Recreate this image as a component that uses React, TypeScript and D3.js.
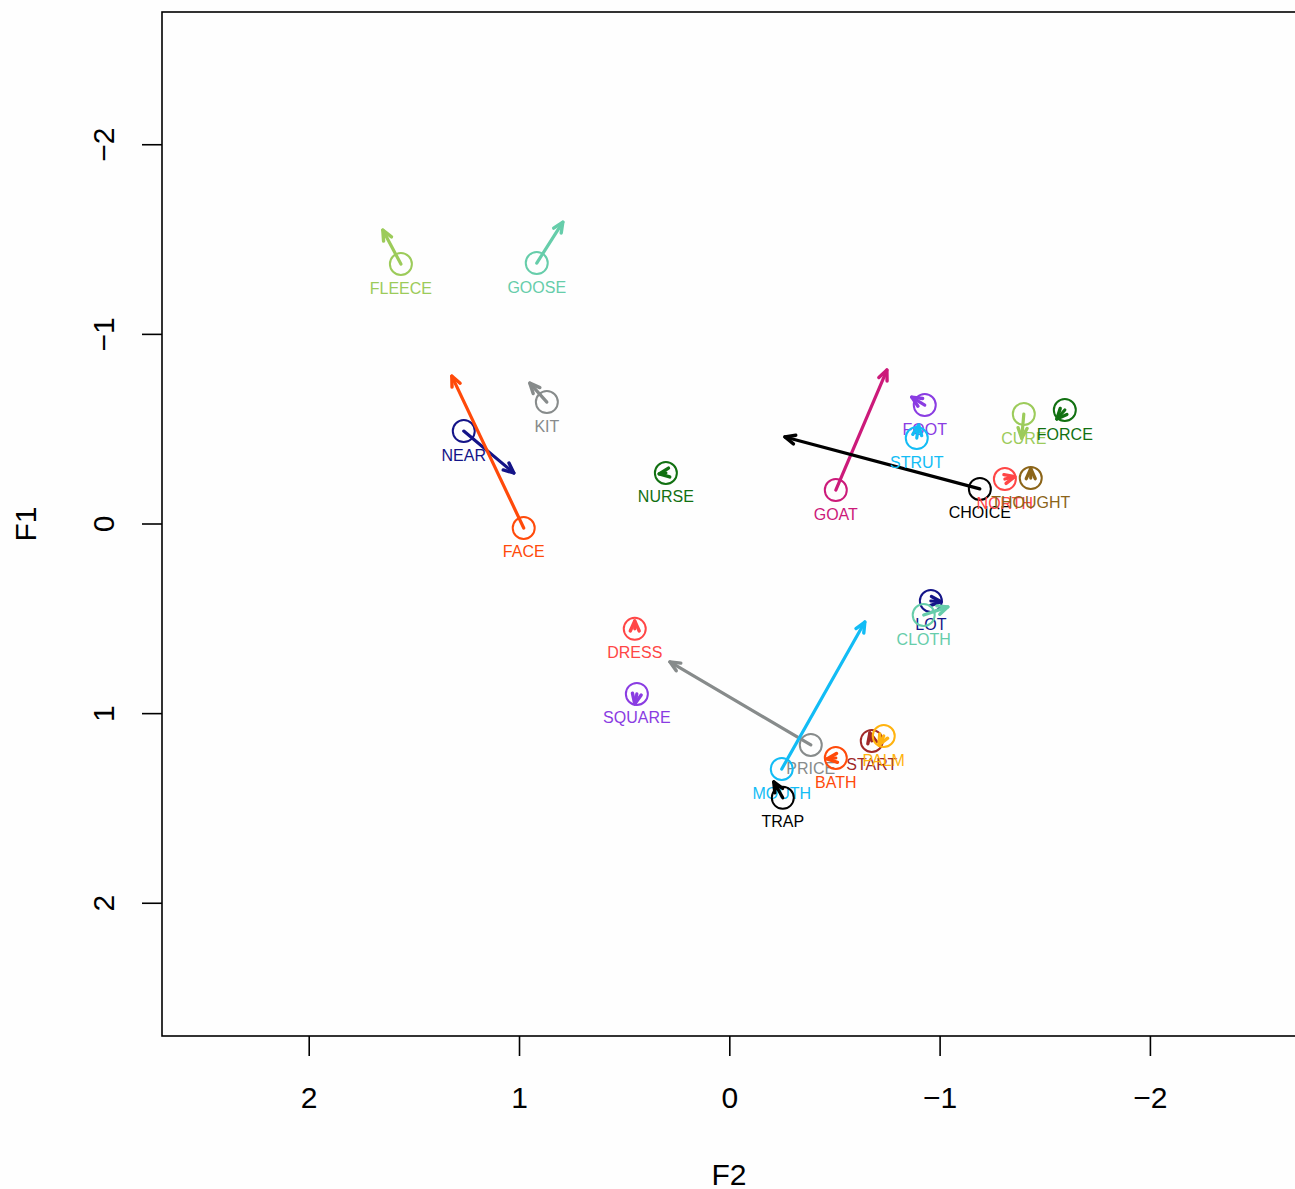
import React from "react";
import * as d3 from "d3";

const vowels = ["FLEECE","GOOSE","KIT","NEAR","FACE","NURSE","GOAT","CHOICE","FOOT","STRUT","CURE","FORCE","NORTH","THOUGHT","LOT","CLOTH","DRESS","SQUARE","PRICE","MOUTH","TRAP","BATH","START","PALM"];
const startF2 = [1.564,0.918,0.870,1.265,0.980,0.304,-0.504,-1.189,-0.927,-0.889,-1.398,-1.593,-1.308,-1.431,-0.956,-0.922,0.452,0.442,-0.385,-0.247,-0.252,-0.504,-0.675,-0.732];
const startF1 = [-1.371,-1.376,-0.643,-0.490,0.021,-0.269,-0.179,-0.185,-0.627,-0.453,-0.580,-0.601,-0.237,-0.242,0.406,0.480,0.553,0.896,1.165,1.292,1.444,1.234,1.144,1.118];
const endF2 = [1.650,0.794,0.951,1.027,1.322,0.336,-0.747,-0.262,-0.865,-0.898,-1.388,-1.555,-1.355,-1.431,-1.005,-1.037,0.452,0.452,0.285,-0.642,-0.209,-0.462,-0.666,-0.709];
const endF1 = [-1.550,-1.592,-0.743,-0.269,-0.780,-0.264,-0.812,-0.459,-0.669,-0.522,-0.453,-0.554,-0.250,-0.292,0.410,0.437,0.511,0.949,0.727,0.517,1.360,1.239,1.102,1.165];
const vowelColors = ["#9CCB5A","#66CDAA","#878B8B","#141488","#FF4A0A","#117011","#CC1A7A","#000000","#8A3CE2","#12BCF5","#9CCB5A","#117011","#FF4646","#8B6418","#141488","#66CDAA","#FF4646","#8A3CE2","#878B8B","#12BCF5","#000000","#FF4A0A","#A02828","#FFB30F"];
const xTicks = [2, 1, 0, -1, -2];
const yTicks = [-2, -1, 0, 1, 2];

const W = 1295, H = 1189;
const left = 162, top = 12, bottom = 1036;

function fmt(v: number) {
  return v < 0 ? "\u2212" + Math.abs(v) : String(v);
}

export default function App() {
  const x = d3.scaleLinear().domain([2.7, -2.7]).range([left, left + 5.4 * 210.3]);
  const y = d3.scaleLinear().domain([-2.7, 2.7]).range([top, bottom]);
  const font = "'Liberation Sans', Arial, Helvetica, sans-serif";

  const arrowHead = (x1: number, y1: number, x2: number, y2: number) => {
    const ang = Math.atan2(y2 - y1, x2 - x1);
    const L = 11, a = Math.PI / 7.5;
    const p1 = [x2 - L * Math.cos(ang - a), y2 - L * Math.sin(ang - a)];
    const p2 = [x2 - L * Math.cos(ang + a), y2 - L * Math.sin(ang + a)];
    return `M${p1[0]},${p1[1]}L${x2},${y2}L${p2[0]},${p2[1]}`;
  };

  return (
    <svg width={W} height={H} style={{ display: "block", position: "absolute", left: 0, top: 0, background: "#fefefe" }}>
      <rect x={0} y={0} width={W} height={H} fill="#fefefe" />
      <rect x={left} y={top} width={W + 10 - left} height={bottom - top} fill="none" stroke="#000" strokeWidth={1.6} />
      {xTicks.map((t) => (
        <g key={"xt" + t}>
          <line x1={x(t)} x2={x(t)} y1={bottom} y2={bottom + 20} stroke="#000" strokeWidth={1.6} />
          <text x={x(t)} y={1097} textAnchor="middle" dominantBaseline="central" fontFamily={font} fontSize={30}>{fmt(t)}</text>
        </g>
      ))}
      {yTicks.map((t) => (
        <g key={"yt" + t}>
          <line x1={left - 20} x2={left} y1={y(t)} y2={y(t)} stroke="#000" strokeWidth={1.6} />
          <text x={0} y={0} transform={`translate(103,${y(t)}) rotate(-90)`} textAnchor="middle" dominantBaseline="central" fontFamily={font} fontSize={30}>{fmt(t)}</text>
        </g>
      ))}
      <text x={729} y={1174} textAnchor="middle" dominantBaseline="central" fontFamily={font} fontSize={30}>F2</text>
      <text x={0} y={0} transform={`translate(25,${y(0)}) rotate(-90)`} textAnchor="middle" dominantBaseline="central" fontFamily={font} fontSize={30}>F1</text>
      {vowels.map((v, i) => {
        const cx = x(startF2[i]), cy = y(startF1[i]);
        const ex = x(endF2[i]), ey = y(endF1[i]);
        const c = vowelColors[i];
        return (
          <g key={v}>
            <circle cx={cx} cy={cy} r={11} fill="none" stroke={c} strokeWidth={2} />
            <line x1={cx} y1={cy} x2={ex} y2={ey} stroke={c} strokeWidth={3.2} strokeLinecap="round" />
            <path d={arrowHead(cx, cy, ex, ey)} fill="none" stroke={c} strokeWidth={3.4} strokeLinejoin="round" strokeLinecap="round" />
            <text x={cx} y={cy + 24} textAnchor="middle" dominantBaseline="central" fontFamily={font} fontSize={16} fill={c}>{v}</text>
          </g>
        );
      })}
    </svg>
  );
}
